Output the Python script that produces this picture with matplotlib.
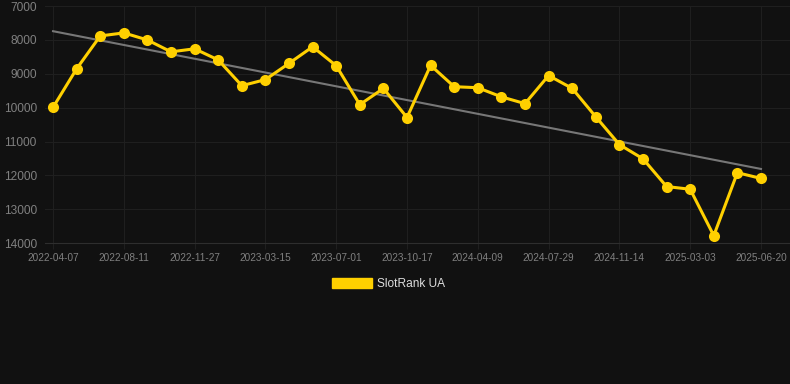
import numpy as np
import matplotlib
matplotlib.use("Agg")
import matplotlib.pyplot as plt
from matplotlib.patches import Patch

# Data (rank, lower is better -> inverted axis)
dates = ["2022-04-07", "2022-08-11", "2022-11-27", "2023-03-15", "2023-07-01",
         "2023-10-17", "2024-04-09", "2024-07-29", "2024-11-14", "2025-03-03",
         "2025-06-20"]
rank = [9990, 8850, 7880, 7790, 8000, 8350, 8260, 8590, 9350, 9170,
        8690, 8200, 8760, 9910, 9430, 10290, 8750, 9380, 9410, 9680,
        9880, 9050, 9430, 10270, 11090, 11510, 12330, 12410, 13780, 11920,
        12090]
trend_ends = [7740, 11810]
yticks = [7000, 8000, 9000, 10000, 11000, 12000, 13000, 14000]

bg = "#111111"
yellow = "#FFD000"

plt.rcParams['font.family'] = ['Liberation Sans', 'DejaVu Sans']

fig = plt.figure(figsize=(7.9, 3.84), dpi=100, facecolor=bg)
ax = fig.add_axes([0.057, 0.367, 0.943, 0.617], facecolor=bg)

x = np.arange(len(rank))
ax.plot([x[0], x[-1]], trend_ends, color="#777777", lw=1.5, zorder=2)
ax.plot(x, rank, color=yellow, lw=2.2, marker="o", markersize=8,
        markeredgewidth=0, zorder=3)

ax.set_ylim(14000, 7000)
ax.set_xlim(-0.34, 31.23)
ax.set_yticks(yticks)
ax.set_xticks(x[::3])
ax.set_xticklabels(dates)

ax.grid(True, color="#1f1f1f", lw=0.8)
for s in ["top", "right", "left"]:
    ax.spines[s].set_visible(False)
ax.spines["bottom"].set_color("#2e2e2e")
ax.tick_params(axis="y", colors="#808080", labelsize=8.6, length=0, pad=6)
ax.tick_params(axis="x", colors="#808080", labelsize=7.2, length=4, pad=3,
               color="#1f1f1f")

handles = [Patch(facecolor=yellow, edgecolor=yellow, label="SlotRank UA")]
fig.legend(handles=handles, loc="center", bbox_to_anchor=(0.492, 0.26),
           frameon=False, labelcolor="#dddddd", fontsize=8.6,
           handlelength=3.3, handleheight=0.9, handletextpad=0.45)

fig.savefig("out.png", dpi=100, facecolor=bg)
